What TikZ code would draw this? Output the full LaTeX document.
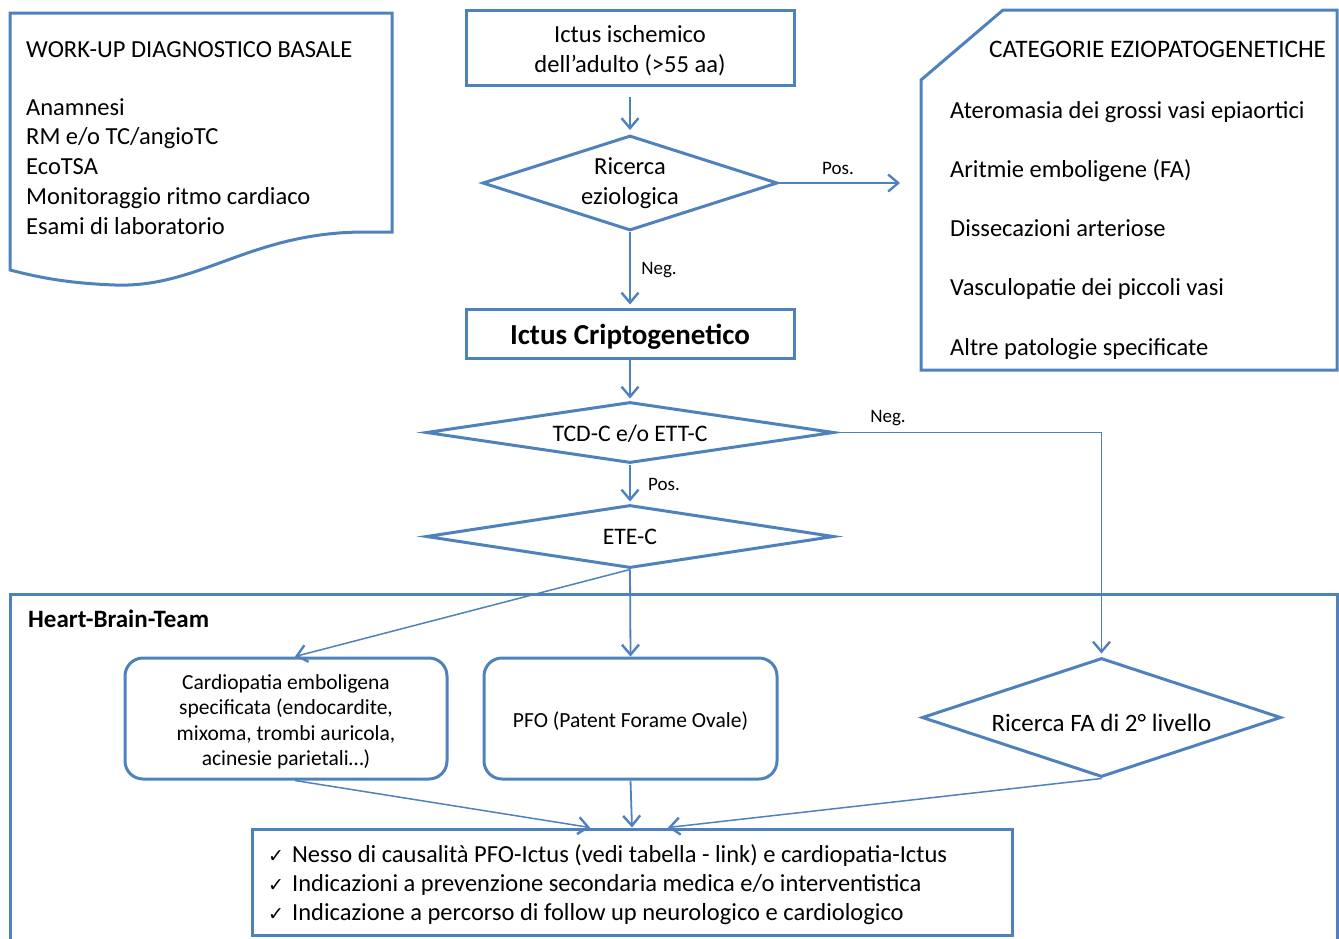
\documentclass[tikz,border=0pt]{standalone}
\usepackage{fontspec}
\setmainfont{Carlito}
\newfontfamily\symfont{DejaVu Sans}
\usetikzlibrary{shapes.geometric,arrows.meta}
\definecolor{lineblue}{HTML}{4F81BD}

\begin{document}
\begin{tikzpicture}[x=1pt,y=-1pt,
  shapeline/.style={draw=lineblue, line width=3pt},
  bigtext/.style={font=\fontsize{24.5}{29.7}\selectfont},
  midtext/.style={font=\fontsize{21.5}{25.5}\selectfont},
  smalltext/.style={font=\fontsize{19}{22}\selectfont},
  flowbox/.style={shapeline, rectangle, inner sep=0pt},
  decision/.style={shapeline, diamond, inner sep=0pt},
  roundbox/.style={shapeline, rectangle, rounded corners=18pt, inner sep=0pt},
  flowarrow/.style={draw=lineblue, line width=1.8pt,
    -{Straight Barb[length=10pt,width=17pt,line width=2.4pt]}},
  thinarrow/.style={flowarrow, line width=1.5pt},
  edgelabel/.style={smalltext, inner sep=0pt},
]
\useasboundingbox (0,0) rectangle (1339,938);
\newcommand{\tick}{{\symfont\fontsize{19}{29}\selectfont ✓}\hspace{8pt}}

% --- basic diagnostic work-up (document shape) ---
\draw[shapeline] (10,13) -- (392,13) -- (392,232) -- (365,232)
  .. controls (250,232) and (200,288) .. (115,285)
  .. controls (60,283) and (30,275) .. (10,270) -- cycle;
\node[bigtext, align=left, anchor=base west, inner sep=0pt] (workup) at (26,234)
  {WORK-UP DIAGNOSTICO BASALE\\[28pt]
   Anamnesi\\
   RM e/o TC/angioTC\\
   EcoTSA\\
   Monitoraggio ritmo cardiaco\\
   Esami di laboratorio};

% --- aetiological categories (clipped-corner box) ---
\draw[shapeline] (921,80) -- (1003,10) -- (1337,10) -- (1337,370) -- (921,370) -- cycle;
\node[font=\fontsize{25.2}{30}\selectfont, anchor=base west, inner sep=0pt] (cattitle) at (989,57)
  {CATEGORIE EZIOPATOGENETICHE};
\node[font=\fontsize{24.5}{59.2}\selectfont, align=left, anchor=base west, inner sep=0pt]
  (catlist) at (950,355)
  {Ateromasia dei grossi vasi epiaortici\\
   Aritmie emboligene (FA)\\
   Dissecazioni arteriose\\
   Vasculopatie dei piccoli vasi\\
   Altre patologie specificate};

% --- main flow ---
\node[flowbox, minimum width=328pt, minimum height=75pt,
  label={[bigtext, align=center, yshift=-3pt]center:Ictus ischemico\\dell’adulto (>55 aa)}]
  (start) at (630,47.5) {};
\node[decision, minimum width=295pt, minimum height=95pt,
  label={[bigtext, align=center]center:Ricerca\\eziologica}] (ricerca) at (630,183) {};
\coordinate (posend) at (900,183);
\node[flowbox, minimum width=328pt, minimum height=49pt,
  label={[font=\fontsize{29}{32}\selectfont\bfseries, yshift=-3pt]center:Ictus Criptogenetico}]
  (cripto) at (630,333.5) {};
\node[decision, minimum width=408pt, minimum height=61pt,
  label={[font=\fontsize{23.7}{28}\selectfont, yshift=-1pt]center:TCD-C e/o ETT-C}] (tcd) at (630,432.5) {};
\node[decision, minimum width=408pt, minimum height=63pt,
  label={[font=\fontsize{23.7}{28}\selectfont]center:ETE-C}] (ete) at (630,536.5) {};

% --- Heart-Brain-Team frame ---
\draw[shapeline] (10,945) -- (10,594) -- (1337,594) -- (1337,945);
\node[font=\fontsize{25}{28}\selectfont\bfseries, anchor=base west, inner sep=0pt] (hbt)
  at (28,627) {Heart-Brain-Team};

\node[roundbox, minimum width=322pt, minimum height=121pt,
  label={[midtext, align=center, yshift=-3.5pt]center:Cardiopatia emboligena\\specificata (endocardite,\\mixoma, trombi auricola,\\acinesie parietali…)}]
  (cardio) at (286,718.5) {};
\node[roundbox, minimum width=293pt, minimum height=121pt,
  label={[midtext, yshift=-3pt]center:PFO (Patent Forame Ovale)}] (pfo) at (630.5,718.5) {};
\node[decision, minimum width=359pt, minimum height=119pt,
  label={[font=\fontsize{25}{29}\selectfont, yshift=-5pt]center:Ricerca FA di 2° livello}] (fa) at (1101.5,717.5) {};

\node[shapeline, rectangle, minimum width=760pt, minimum height=106pt, inner sep=0pt] (result)
  at (632,882) {};
\node[font=\fontsize{24.5}{29}\selectfont, align=left, anchor=base west, inner sep=0pt]
  (resulttext) at (268,920)
  {\tick Nesso di causalità PFO-Ictus (vedi tabella - link) e cardiopatia-Ictus\\
   \tick Indicazioni a prevenzione secondaria medica e/o interventistica\\
   \tick Indicazione a percorso di follow up neurologico e cardiologico};

% --- connectors ---
\draw[flowarrow, shorten <=10pt, shorten >=4pt] (start) -- (ricerca);
\draw[thinarrow] (ricerca.east) -- (posend);
\node[edgelabel] (poslabel) at (838,168) {Pos.};
\draw[flowarrow, shorten >=3pt] (ricerca.south) -- (cripto.north);
\node[edgelabel] (neglabel) at (659,270) {Neg.};
\draw[flowarrow, shorten >=2pt] (cripto.south) -- (tcd.north);
\draw[thinarrow, shorten >=3pt] (tcd.east) -| (fa.north);
\node[edgelabel] (neglabel2) at (888,418) {Neg.};
\draw[flowarrow, shorten >=2pt] (tcd.south) -- (ete.north);
\node[edgelabel] (poslabel2) at (664,484) {Pos.};
\draw[thinarrow] (ete.south) -- ([xshift=9pt]cardio.north);
\draw[flowarrow] (ete.south) -- (pfo.north);
\draw[thinarrow] ([xshift=9pt]cardio.south) -- ([xshift=-42pt]result.north);
\draw[flowarrow] (pfo.south) -- (result.north);
\draw[thinarrow] (fa.south) -- ([xshift=36pt]result.north);
\end{tikzpicture}
\end{document}
